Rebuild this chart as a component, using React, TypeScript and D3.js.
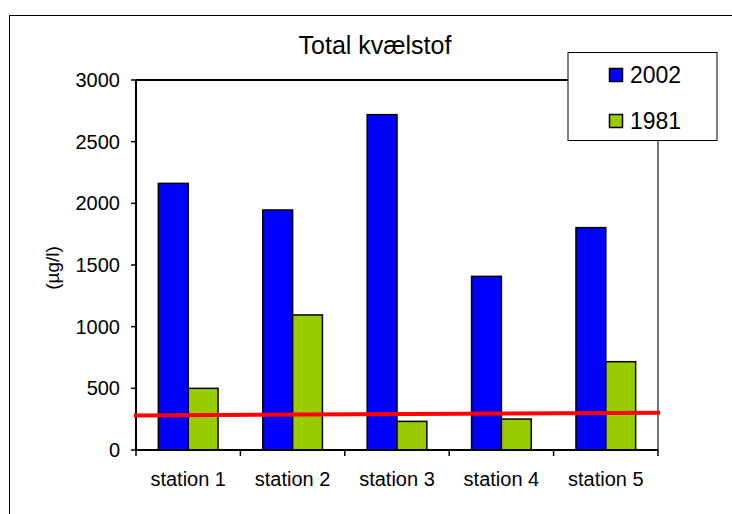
import React from "react";
import * as d3 from "d3";

const stations = ["station 1", "station 2", "station 3", "station 4", "station 5"];
const seriesNames = ["2002", "1981"];
const values2002 = [2162, 1946, 2719, 1408, 1803];
const values1981 = [500, 1095, 232, 251, 716];
const seriesColors = ["#0000FF", "#99CC00"];
const yTicks = [0, 500, 1000, 1500, 2000, 2500, 3000];
const refLine = [280, 302];
const title = "Total kvælstof";
const yLabel = "(µg/l)";

export default function App() {
  const W = 732, H = 514;
  const left = 136, right = 658, top = 80, bottom = 450;
  const x0 = d3.scaleBand<string>().domain(stations).range([left, right]).paddingInner(0).paddingOuter(0);
  const x1 = d3.scaleBand<string>().domain(seriesNames).range([0, x0.bandwidth()]).paddingInner(0).paddingOuter(0.75);
  const y = d3.scaleLinear().domain([0, 3000]).range([bottom, top]);
  const xr = d3.scaleLinear().domain([0, 1]).range([134, 660]);
  const series = [values2002, values1981];
  const font = "'Liberation Sans', Arial, sans-serif";
  const lineGen = d3.line<number>().x((_, i) => xr(i)).y((d) => y(d));

  return (
    <svg width={W} height={H} style={{ position: "absolute", left: 0, top: 0, background: "#fff" }} fontFamily={font}>
      <rect x={0} y={0} width={W} height={H} fill="#fff" />
      <rect x={9.5} y={15.5} width={W + 10} height={H + 10} fill="none" stroke="#000" strokeWidth={1} />
      {/* plot frame */}
      <line x1={left} y1={top} x2={right} y2={top} stroke="#000" strokeWidth={2} />
      <line x1={right} y1={top} x2={right} y2={bottom} stroke="#444" strokeWidth={1.5} />
      <text x={375} y={54} textAnchor="middle" fontSize={25}>{title}</text>
      {/* bars */}
      {stations.map((s, i) => (
        <g key={s}>
          {series.map((vals, j) => (
            <rect key={j}
              x={(x0(s) as number) + (x1(seriesNames[j]) as number)}
              y={y(vals[i])}
              width={x1.bandwidth()}
              height={bottom - y(vals[i])}
              fill={seriesColors[j]} stroke="#000" strokeWidth={1.5} />
          ))}
        </g>
      ))}
      {/* y axis */}
      <line x1={left} y1={top} x2={left} y2={bottom} stroke="#000" strokeWidth={2} />
      {yTicks.map((t) => (
        <g key={t}>
          <line x1={left - 5} x2={left} y1={y(t)} y2={y(t)} stroke="#000" strokeWidth={1.5} />
          <text x={120} y={y(t)} dy="0.35em" textAnchor="end" fontSize={20}>{t}</text>
        </g>
      ))}
      <text transform={`translate(${52},${268}) rotate(-90)`} textAnchor="middle" dy="0.35em" fontSize={19}>{yLabel}</text>
      {/* x axis */}
      <line x1={left} y1={bottom} x2={right} y2={bottom} stroke="#000" strokeWidth={2} />
      {[...stations.map((s) => x0(s) as number), right].map((xv, i) => (
        <line key={i} x1={xv} x2={xv} y1={bottom} y2={bottom + 6} stroke="#000" strokeWidth={1.5} />
      ))}
      {stations.map((s) => (
        <text key={s} x={(x0(s) as number) + x0.bandwidth() / 2} y={479} dy="0.35em" textAnchor="middle" fontSize={20}>{s}</text>
      ))}
      {/* reference line */}
      <path d={lineGen(refLine) || ""} fill="none" stroke="#FF0000" strokeWidth={4} />
      {/* legend */}
      <rect x={568} y={52.5} width={149} height={88} fill="#fff" stroke="#000" strokeWidth={1} />
      {seriesNames.map((n, j) => (
        <g key={n}>
          <rect x={609.5} y={68.5 + j * 46} width={13} height={13} fill={seriesColors[j]} stroke="#000" strokeWidth={1.5} />
          <text x={630} y={75 + j * 46} dy="0.35em" fontSize={23}>{n}</text>
        </g>
      ))}
    </svg>
  );
}
